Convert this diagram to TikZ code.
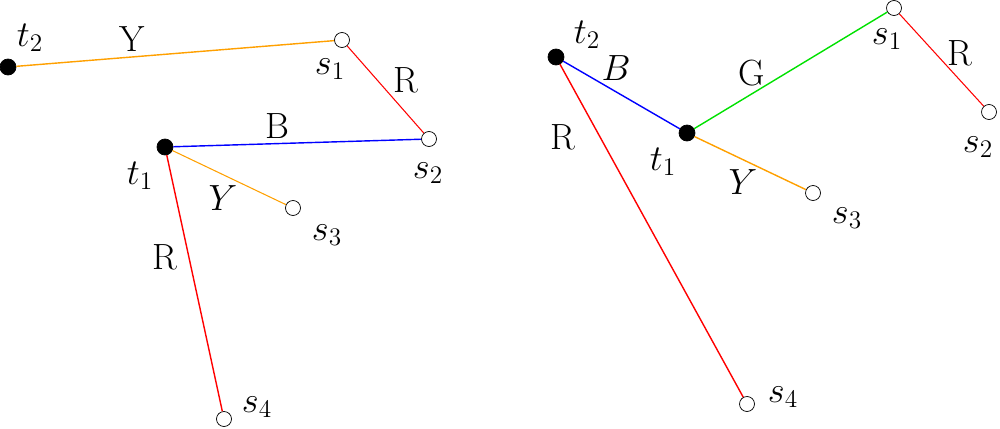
\documentclass[tikz,border=0pt]{standalone}
\usepackage{xcolor}
\definecolor{edgeorange}{RGB}{255,160,0}
\definecolor{edgegreen}{RGB}{0,225,0}

\tikzset{
  terminal/.style={circle,fill=black,draw=black,inner sep=0pt,minimum size=0.32cm},
  sink/.style={circle,fill=white,draw=black,thin,inner sep=0pt,minimum size=0.30cm},
  lbl/.style={font=\huge,inner sep=0pt},
}

\begin{document}
\begin{tikzpicture}
%    \draw[black,thin] (0.0,0.0) grid (20.0,8.56);
    \useasboundingbox (0,0) rectangle (20,8.56);

    % left tree
    \node[terminal] (lt2) at (0.16,7.22) {};
    \node[sink]     (ls1) at (6.84,7.76) {};
    \node[sink]     (ls2) at (8.58,5.78) {};
    \node[terminal] (lt1) at (3.30,5.62) {};
    \node[sink]     (ls3) at (5.86,4.40) {};
    \node[sink]     (ls4) at (4.48,0.18) {};

    \draw[edgeorange,thick]     (lt2) -- (ls1);
    \draw[red,semithick]        (ls1) -- (ls2);
    \draw[blue,thick]           (lt1) -- (ls2);
    \draw[edgeorange,semithick] (lt1) -- (ls3);
    \draw[red,thick]            (lt1) -- (ls4);

    \node[lbl] (lt2name) at (0.60,7.80) {$t_2$};
    \node[lbl] (ls1name) at (6.60,7.18) {$s_1$};
    \node[lbl] (ls2name) at (8.56,5.10) {$s_2$};
    \node[lbl] (lt1name) at (2.80,5.04) {$t_1$};
    \node[lbl] (ls3name) at (6.54,3.86) {$s_3$};
    \node[lbl] (ls4name) at (5.14,0.42) {$s_4$};

    \node[lbl] (lY1) at (2.64,7.78) {Y};
    \node[lbl] (lR1) at (8.12,6.96) {R};
    \node[lbl] (lB)  at (5.54,6.04) {B};
    \node[lbl] (lY2) at (4.46,4.60) {$Y$};
    \node[lbl] (lR2) at (3.30,3.42) {R};


    % right tree
    \node[terminal] (rt2) at (11.12,7.42) {};
    \node[terminal] (rt1) at (13.74,5.90) {};
    \node[sink]     (rs1) at (17.88,8.40) {};
    \node[sink]     (rs2) at (19.78,6.32) {};
    \node[sink]     (rs3) at (16.26,4.70) {};
    \node[sink]     (rs4) at (14.94,0.48) {};

    \draw[blue,thick]           (rt2) -- (rt1);
    \draw[edgegreen,thick]      (rt1) -- (rs1);
    \draw[red,semithick]        (rs1) -- (rs2);
    \draw[edgeorange,thick]     (rt1) -- (rs3);
    \draw[red,thick]            (rt2) -- (rs4);

    \node[lbl] (rt2name) at (11.74,7.86) {$t_2$};
    \node[lbl] (rt1name) at (13.26,5.32) {$t_1$};
    \node[lbl] (rs1name) at (17.74,7.78) {$s_1$};
    \node[lbl] (rs2name) at (19.56,5.62) {$s_2$};
    \node[lbl] (rs3name) at (16.94,4.20) {$s_3$};
    \node[lbl] (rs4name) at (15.66,0.62) {$s_4$};

    \node[lbl] (rB)  at (12.32,7.20) {$B$};
    \node[lbl] (rG)  at (15.04,7.10) {G};
    \node[lbl] (rR1) at (19.20,7.50) {R};
    \node[lbl] (rR2) at (11.26,5.82) {R};
    \node[lbl] (rY)  at (14.86,4.92) {$Y$};

\end{tikzpicture}
\end{document}
